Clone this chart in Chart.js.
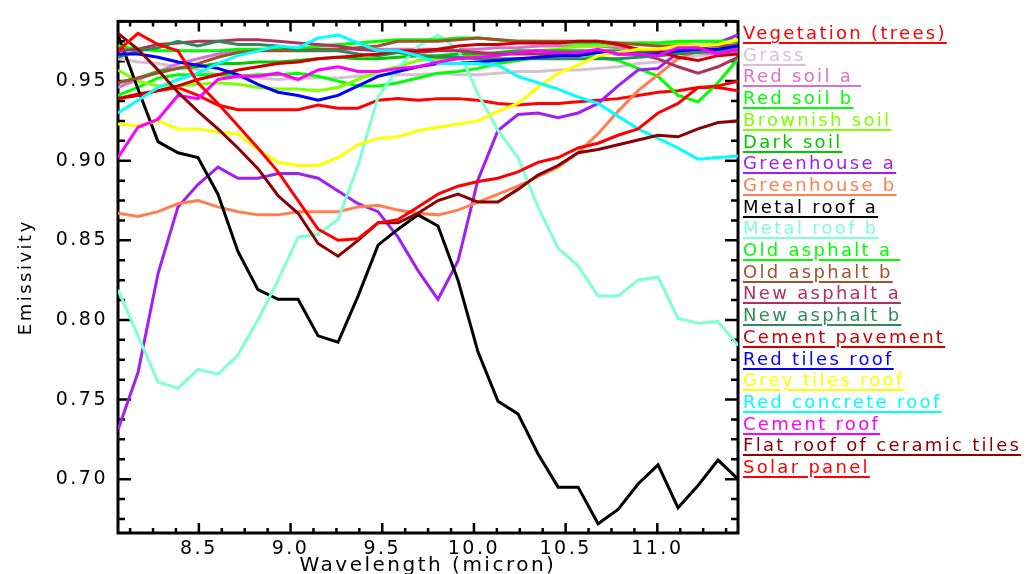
<!DOCTYPE html>
<html>
<head>
<meta charset="utf-8">
<script src="https://cdn.jsdelivr.net/npm/chart.js@4"></script>
<style>
  body { margin: 0; background: #fff; }
  #wrap { position: relative; width: 1029px; height: 574px; overflow: hidden; }
  #chart { position: absolute; left: 0; top: 0; }
  .key {
    position: absolute; left: 743px;
    font: 18px "DejaVu Sans"; line-height: 18px; letter-spacing: 2.3px;
    white-space: pre; text-decoration: underline;
    text-decoration-thickness: 2px; text-underline-offset: 3px;
  }
</style>
</head>
<body>
<div id="wrap">
  <canvas id="chart" width="1029" height="574"></canvas>
  <div id="legend"></div>
</div>
<script>
// Emissivity spectra of urban materials, 8 - 11.5 micron
const wavelength = [8.059, 8.168, 8.277, 8.386, 8.495, 8.604, 8.713, 8.822, 8.932, 9.041, 9.150, 9.259, 9.368, 9.477, 9.586, 9.695,
                    9.804, 9.913, 10.022, 10.131, 10.240, 10.349, 10.459, 10.568, 10.677, 10.786, 10.895, 11.004, 11.113, 11.222, 11.331, 11.440];
const xTicks = [8.5, 9.0, 9.5, 10.0, 10.5, 11.0];
const yTicks = [0.70, 0.75, 0.80, 0.85, 0.90, 0.95];

const vegetation = [0.939, 0.942, 0.944, 0.946, 0.941, 0.935, 0.932, 0.932, 0.932, 0.932, 0.935, 0.933, 0.933, 0.938, 0.939, 0.938,
                    0.939, 0.939, 0.938, 0.936, 0.935, 0.936, 0.936, 0.937, 0.938, 0.939, 0.941, 0.943, 0.944, 0.946, 0.946, 0.944];
const grass = [0.964, 0.962, 0.961, 0.959, 0.957, 0.954, 0.952, 0.952, 0.951, 0.952, 0.952, 0.952, 0.953, 0.954, 0.954, 0.954,
               0.955, 0.954, 0.954, 0.955, 0.956, 0.956, 0.957, 0.957, 0.958, 0.959, 0.961, 0.962, 0.964, 0.966, 0.967, 0.968];
const redSoilA = [0.946, 0.951, 0.956, 0.961, 0.964, 0.967, 0.969, 0.970, 0.970, 0.970, 0.970, 0.970, 0.970, 0.970, 0.970, 0.970,
                  0.970, 0.970, 0.970, 0.971, 0.971, 0.972, 0.972, 0.972, 0.972, 0.971, 0.970, 0.969, 0.969, 0.968, 0.967, 0.969];
const redSoilB = [0.941, 0.946, 0.952, 0.954, 0.954, 0.954, 0.953, 0.954, 0.954, 0.955, 0.953, 0.950, 0.947, 0.947, 0.949, 0.952,
                  0.955, 0.956, 0.958, 0.961, 0.963, 0.965, 0.966, 0.967, 0.965, 0.963, 0.958, 0.953, 0.941, 0.937, 0.949, 0.964];
const brownishSoil = [0.957, 0.950, 0.947, 0.947, 0.948, 0.949, 0.948, 0.946, 0.945, 0.945, 0.944, 0.946, 0.951, 0.956, 0.959, 0.963,
                      0.964, 0.965, 0.966, 0.967, 0.968, 0.969, 0.970, 0.972, 0.972, 0.973, 0.974, 0.974, 0.974, 0.975, 0.975, 0.976];
const darkSoil = [0.949, 0.952, 0.956, 0.958, 0.959, 0.961, 0.961, 0.962, 0.962, 0.963, 0.964, 0.965, 0.964, 0.964, 0.965, 0.966,
                  0.966, 0.967, 0.967, 0.968, 0.969, 0.969, 0.969, 0.969, 0.969, 0.969, 0.968, 0.968, 0.969, 0.969, 0.970, 0.970];
const greenhouseA = [0.731, 0.767, 0.829, 0.871, 0.885, 0.896, 0.889, 0.889, 0.892, 0.892, 0.889, 0.881, 0.873, 0.868, 0.852, 0.831,
                     0.813, 0.837, 0.888, 0.919, 0.929, 0.930, 0.927, 0.930, 0.936, 0.947, 0.957, 0.958, 0.968, 0.970, 0.974, 0.979];
const greenhouseB = [0.867, 0.865, 0.868, 0.873, 0.875, 0.871, 0.868, 0.866, 0.866, 0.868, 0.868, 0.868, 0.871, 0.872, 0.869, 0.867,
                     0.866, 0.869, 0.874, 0.879, 0.884, 0.890, 0.896, 0.905, 0.917, 0.931, 0.944, 0.954, 0.964, 0.969, 0.970, 0.972];
const metalRoofA = [0.979, 0.945, 0.912, 0.905, 0.902, 0.879, 0.843, 0.819, 0.813, 0.813, 0.790, 0.786, 0.815, 0.847, 0.857, 0.866,
                    0.859, 0.825, 0.780, 0.749, 0.741, 0.716, 0.695, 0.695, 0.672, 0.681, 0.697, 0.709, 0.682, 0.696, 0.712, 0.700];
const metalRoofB = [0.819, 0.790, 0.761, 0.757, 0.769, 0.766, 0.778, 0.800, 0.825, 0.852, 0.854, 0.863, 0.897, 0.940, 0.958, 0.972,
                    0.979, 0.970, 0.942, 0.919, 0.902, 0.871, 0.845, 0.834, 0.815, 0.815, 0.825, 0.827, 0.801, 0.798, 0.799, 0.784];
const oldAsphaltA = [0.972, 0.970, 0.969, 0.969, 0.969, 0.969, 0.970, 0.970, 0.970, 0.970, 0.972, 0.973, 0.974, 0.975, 0.976, 0.976,
                     0.976, 0.977, 0.977, 0.976, 0.975, 0.975, 0.974, 0.974, 0.974, 0.974, 0.974, 0.974, 0.975, 0.975, 0.975, 0.975];
const oldAsphaltB = [0.949, 0.952, 0.955, 0.958, 0.961, 0.965, 0.968, 0.969, 0.969, 0.969, 0.970, 0.970, 0.971, 0.972, 0.975, 0.975,
                     0.975, 0.976, 0.977, 0.976, 0.975, 0.975, 0.975, 0.975, 0.975, 0.974, 0.973, 0.972, 0.972, 0.972, 0.972, 0.973];
const newAsphaltA = [0.969, 0.970, 0.973, 0.974, 0.975, 0.975, 0.976, 0.976, 0.975, 0.974, 0.973, 0.972, 0.970, 0.969, 0.968, 0.968,
                     0.969, 0.969, 0.968, 0.967, 0.967, 0.967, 0.967, 0.967, 0.968, 0.968, 0.967, 0.964, 0.959, 0.955, 0.959, 0.965];
const newAsphaltB = [0.965, 0.969, 0.971, 0.975, 0.972, 0.975, 0.973, 0.973, 0.972, 0.969, 0.969, 0.969, 0.967, 0.966, 0.968, 0.966,
                     0.965, 0.965, 0.964, 0.964, 0.964, 0.964, 0.964, 0.964, 0.964, 0.964, 0.965, 0.966, 0.967, 0.968, 0.969, 0.969];
const cementPavement = [0.939, 0.941, 0.944, 0.947, 0.951, 0.954, 0.957, 0.959, 0.961, 0.962, 0.964, 0.965, 0.966, 0.967, 0.969, 0.969,
                        0.970, 0.972, 0.973, 0.973, 0.974, 0.974, 0.974, 0.975, 0.975, 0.973, 0.970, 0.969, 0.965, 0.963, 0.966, 0.967];
const redTilesRoof = [0.967, 0.967, 0.965, 0.962, 0.960, 0.958, 0.954, 0.948, 0.943, 0.941, 0.938, 0.941, 0.947, 0.953, 0.956, 0.959,
                      0.961, 0.961, 0.962, 0.963, 0.964, 0.965, 0.966, 0.966, 0.968, 0.967, 0.967, 0.967, 0.969, 0.970, 0.970, 0.972];
const greyTilesRoof = [0.923, 0.922, 0.925, 0.920, 0.920, 0.918, 0.917, 0.907, 0.899, 0.897, 0.897, 0.902, 0.910, 0.914, 0.915, 0.919,
                       0.921, 0.923, 0.925, 0.931, 0.936, 0.946, 0.955, 0.960, 0.966, 0.968, 0.970, 0.970, 0.972, 0.972, 0.973, 0.976];
const redConcreteRoof = [0.930, 0.938, 0.946, 0.951, 0.955, 0.961, 0.966, 0.969, 0.972, 0.971, 0.977, 0.979, 0.974, 0.969, 0.969, 0.966,
                         0.961, 0.961, 0.961, 0.960, 0.953, 0.949, 0.945, 0.940, 0.936, 0.928, 0.920, 0.914, 0.908, 0.901, 0.902, 0.903];
const cementRoof = [0.902, 0.921, 0.926, 0.941, 0.939, 0.951, 0.953, 0.953, 0.955, 0.951, 0.957, 0.959, 0.956, 0.956, 0.958, 0.959,
                    0.962, 0.964, 0.965, 0.966, 0.968, 0.969, 0.968, 0.968, 0.970, 0.967, 0.967, 0.966, 0.971, 0.971, 0.967, 0.970];
const flatRoofCeramic = [0.980, 0.970, 0.957, 0.943, 0.931, 0.920, 0.908, 0.895, 0.878, 0.867, 0.848, 0.840, 0.850, 0.861, 0.861, 0.867,
                         0.875, 0.879, 0.874, 0.874, 0.882, 0.891, 0.897, 0.905, 0.907, 0.910, 0.913, 0.916, 0.915, 0.920, 0.924, 0.925];
const solarPanel = [0.969, 0.980, 0.973, 0.969, 0.949, 0.936, 0.922, 0.908, 0.893, 0.875, 0.857, 0.850, 0.851, 0.861, 0.863, 0.871,
                    0.879, 0.884, 0.887, 0.889, 0.893, 0.899, 0.902, 0.908, 0.911, 0.916, 0.920, 0.930, 0.936, 0.946, 0.947, 0.950];

const labels = ["Vegetation (trees)", "Grass", "Red soil a ", "Red soil b", "Brownish soil", "Dark soil",
                "Greenhouse a", "Greenhouse b", "Metal roof a", "Metal roof b", "Old asphalt a ", "Old asphalt b",
                "New asphalt a", "New asphalt b", "Cement pavement", "Red tiles roof", "Grey tiles roof",
                "Red concrete roof", "Cement roof", "Flat roof of ceramic tiles", "Solar panel"];
const colors = ["#ff0000", "#d8bfd8", "#da70d6", "#00ff00", "#7fff00", "#00c800",
                "#a020f0", "#ff7f50", "#000000", "#7fffd4", "#00ff00", "#a0522d",
                "#b03060", "#2e8b57", "#cd0000", "#0000ff", "#ffff00",
                "#00ffff", "#ff00ff", "#8b0000", "#ff0000"];
const series = [vegetation, grass, redSoilA, redSoilB, brownishSoil, darkSoil, greenhouseA, greenhouseB,
                metalRoofA, metalRoofB, oldAsphaltA, oldAsphaltB, newAsphaltA, newAsphaltB, cementPavement,
                redTilesRoof, greyTilesRoof, redConcreteRoof, cementRoof, flatRoofCeramic, solarPanel];

// IDL-like boxed axes: inward major/minor ticks on all four sides
const frame = {
    id: "frame",
    beforeDatasetsDraw(chart) {
        const { ctx, chartArea: a, scales: { x, y } } = chart;
        ctx.save();
        ctx.strokeStyle = "#000";
        ctx.lineWidth = 2.5;
        ctx.beginPath();
        for (let i = 0; i <= 28; i++) {
            const v = 8.0 + i * 0.125;
            if (v < x.min || v > x.max) continue;
            const px = x.getPixelForValue(v);
            const len = xTicks.some(t => Math.abs(t - v) < 1e-6) ? 10 : 5;
            ctx.moveTo(px, a.bottom); ctx.lineTo(px, a.bottom - len);
            ctx.moveTo(px, a.top); ctx.lineTo(px, a.top + len);
        }
        for (let i = 0; i <= 26; i++) {
            const v = 0.6625 + i * 0.0125;
            if (v < y.min || v > y.max) continue;
            const py = y.getPixelForValue(v);
            const len = yTicks.some(t => Math.abs(t - v) < 1e-6) ? 13 : 7;
            ctx.moveTo(a.left, py); ctx.lineTo(a.left + len, py);
            ctx.moveTo(a.right, py); ctx.lineTo(a.right - len, py);
        }
        ctx.stroke();
        ctx.lineWidth = 3;
        ctx.strokeRect(a.left, a.top, a.right - a.left, a.bottom - a.top);
        ctx.restore();
    },
};

// wide spacing of the original vector font
const spacing = {
    id: "spacing",
    beforeDraw(chart) { chart.ctx.letterSpacing = "2.5px"; },
    afterDraw(chart) { chart.ctx.letterSpacing = "0px"; },
};

Chart.defaults.font.family = "DejaVu Sans";
Chart.defaults.color = "#000";

new Chart(document.getElementById("chart"), {
    type: "line",
    data: {
        datasets: series.map((vals, i) => ({
            label: labels[i],
            data: vals.map((v, k) => ({ x: wavelength[k], y: v })),
            borderColor: colors[i],
            borderWidth: 3,
            pointRadius: 0,
            tension: 0,
            fill: false,
            order: series.length - i,
        })),
    },
    options: {
        responsive: false,
        animation: false,
        devicePixelRatio: 1,
        layout: { padding: { left: 0, top: 15, right: 291, bottom: 0 } },
        scales: {
            x: {
                type: "linear",
                min: 8.059,
                max: 11.44,
                grid: { display: false, drawTicks: false },
                border: { display: false },
                ticks: {
                    stepSize: 0.5,
                    includeBounds: false,
                    padding: 5,
                    font: { size: 19 },
                    callback: v => xTicks.includes(v) ? v.toFixed(1) : "",
                },
                title: { display: true, text: "Wavelength (micron)", font: { size: 20 }, padding: { top: 0, bottom: -4 } },
                afterFit(s) { s.height = 41; },
            },
            y: {
                type: "linear",
                min: 0.6662,
                max: 0.9875,
                grid: { display: false, drawTicks: false },
                border: { display: false },
                ticks: {
                    stepSize: 0.05,
                    includeBounds: false,
                    padding: 10,
                    font: { size: 19 },
                    callback: v => v.toFixed(2),
                },
                title: { display: true, text: "Emissivity", font: { size: 18 }, padding: { top: 16, bottom: 0 } },
                afterFit(s) { s.width = 118; },
            },
        },
        plugins: {
            legend: { display: false },
            tooltip: { enabled: false },
        },
    },
    plugins: [frame, spacing],
});

// underlined, coloured legend down the right side
const legend = document.getElementById("legend");
labels.forEach((name, i) => {
    const d = document.createElement("div");
    d.className = "key";
    d.style.top = (24 + i * 21.7) + "px";
    d.style.color = colors[i];
    d.textContent = name;
    legend.appendChild(d);
});
</script>
</body>
</html>
